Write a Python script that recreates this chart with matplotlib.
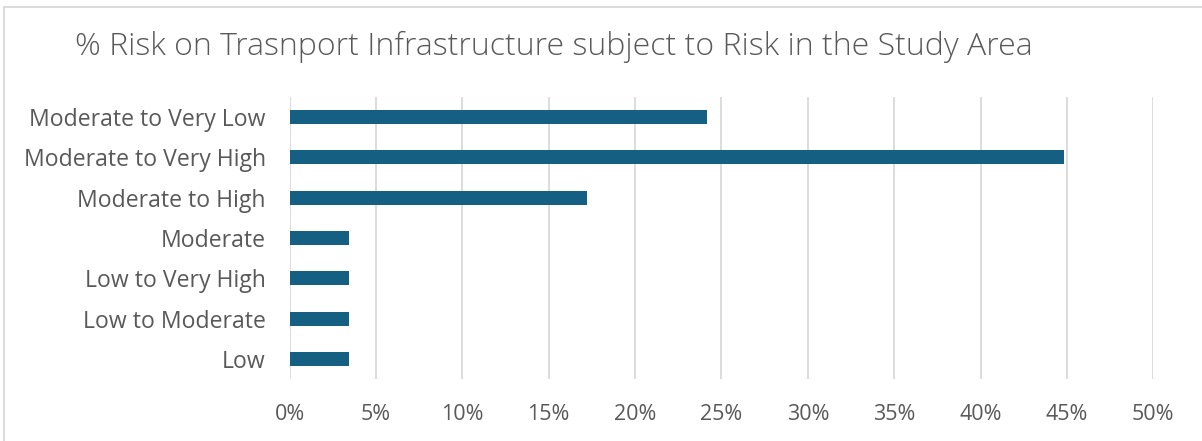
import matplotlib
matplotlib.use("Agg")
import matplotlib.pyplot as plt
from matplotlib.lines import Line2D
from matplotlib.ticker import FuncFormatter, MultipleLocator

categories = ["Low", "Low to Moderate", "Low to Very High", "Moderate",
              "Moderate to High", "Moderate to Very High", "Moderate to Very Low"]
values = [3.45, 3.45, 3.45, 3.45, 17.24, 44.83, 24.14]
title = "% Risk on Trasnport Infrastructure subject to Risk in the Study Area"

plt.rcParams['font.family'] = ['Open Sans', 'DejaVu Sans']
text_color = "#595959"
bar_color = "#156082"
grid_color = "#d9d9d9"

fig = plt.figure(figsize=(12.02, 4.41), dpi=100)
ax = fig.add_axes([0.2409, 0.1406, 0.7186, 0.6394])

ax.barh(range(len(categories)), values, height=0.35, color=bar_color, zorder=3)
ax.set_yticks(range(len(categories)))
ax.set_yticklabels(categories, fontsize=16.6, color=text_color)
ax.set_ylim(-0.5, len(categories) - 0.5)
ax.set_xlim(0, 50)
ax.xaxis.set_major_locator(MultipleLocator(5))
ax.xaxis.set_major_formatter(FuncFormatter(lambda v, p: f"{int(round(v))}%"))
ax.tick_params(axis='x', labelsize=15.5, labelcolor=text_color, length=0, pad=18)
ax.tick_params(axis='y', length=0, pad=17)
ax.grid(axis='x', color=grid_color, linewidth=1.3, zorder=0)
for s in ax.spines.values():
    s.set_visible(False)

fig.text(0.4605, 0.893, title, ha='center', va='center', fontsize=23,
         color=text_color, fontweight='light')

# Chart-area border visible on top and left only
fig.add_artist(Line2D([3.5 / 1202, 1.0], [1 - 6.5 / 441, 1 - 6.5 / 441],
                      transform=fig.transFigure, color="#d9d9d9", linewidth=1.3))
fig.add_artist(Line2D([3.5 / 1202, 3.5 / 1202], [0.0, 1 - 6.5 / 441],
                      transform=fig.transFigure, color="#d9d9d9", linewidth=1.3))

fig.savefig("out.png", dpi=100)
